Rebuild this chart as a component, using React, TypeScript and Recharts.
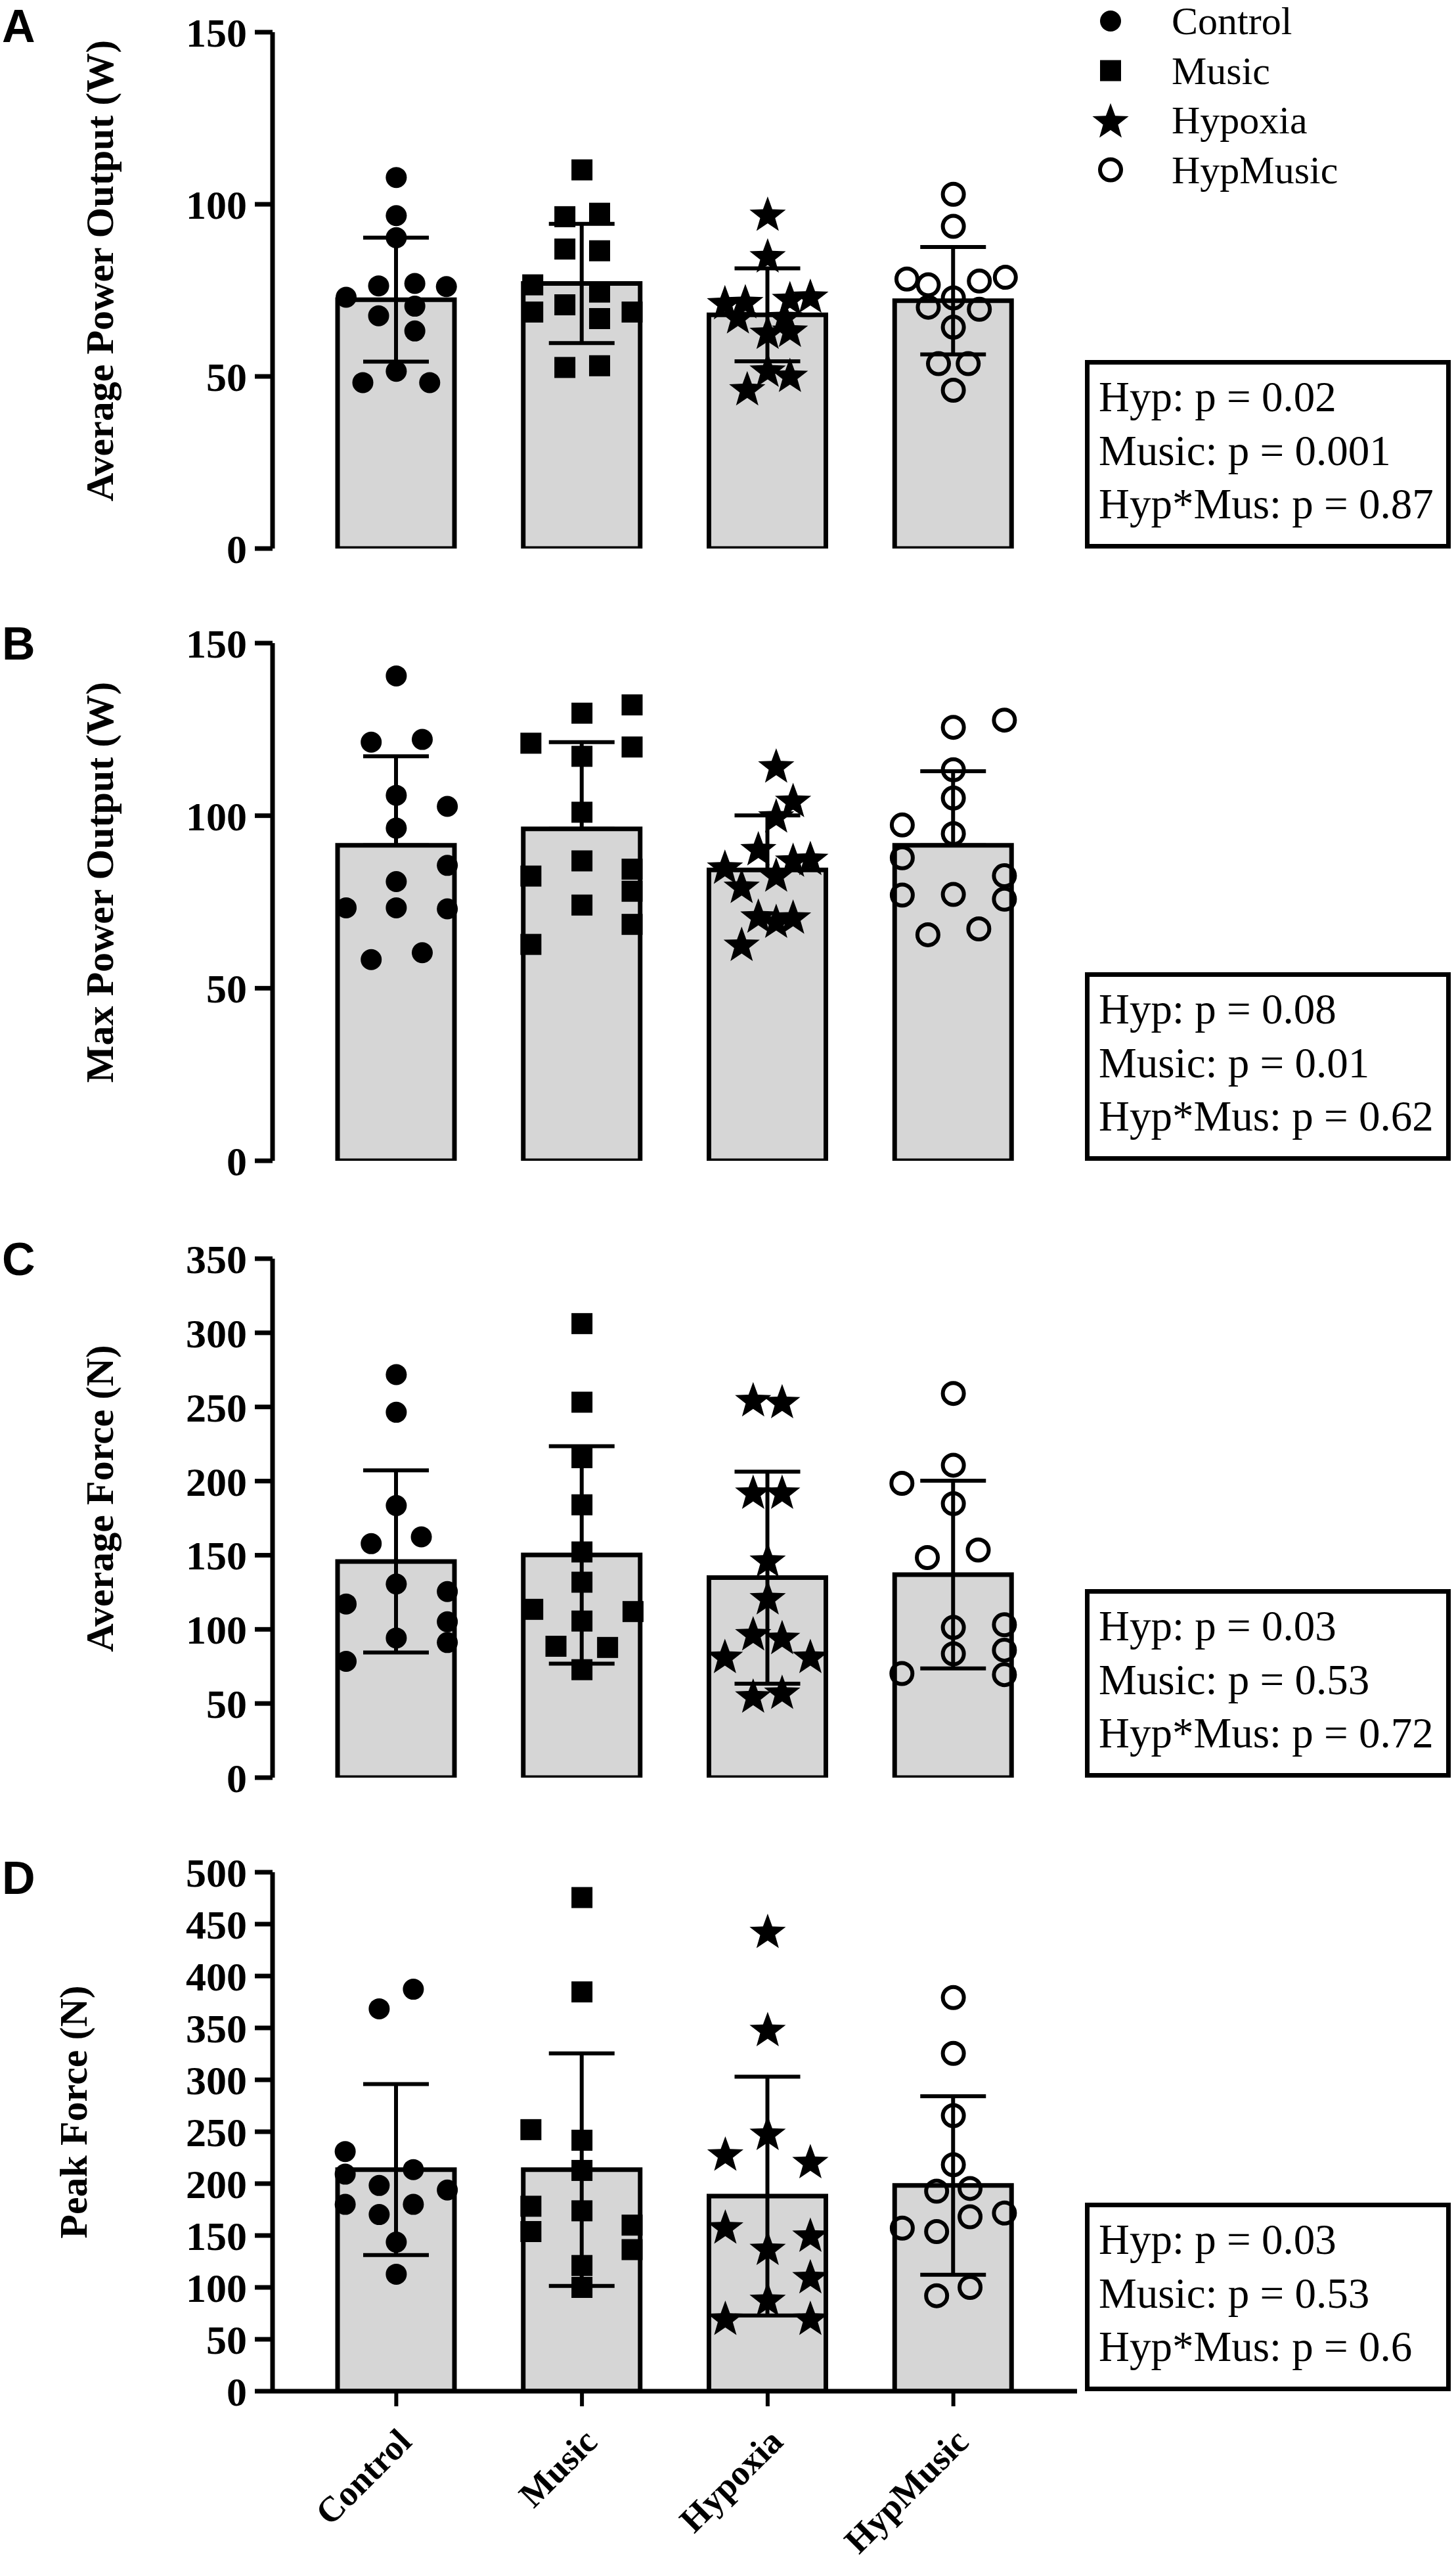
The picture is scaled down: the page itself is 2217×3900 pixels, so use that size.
import { ComposedChart, Bar, ErrorBar, Scatter, XAxis, YAxis } from 'recharts';

const groups = ['Control', 'Music', 'Hypoxia', 'HypMusic'];

// A - average power output (W). points are [offset inside the group, value]
const avgPowerMean = [72.3, 77.0, 67.9, 72.0];
const avgPowerSd = [18.0, 17.3, 13.5, 15.6];
const avgPowerControl = [[0, 107.8], [0, 96.7], [0, 90.3], [-0.27, 73.0], [-0.095, 76.3], [0.1, 77.0], [0.27, 76.1], [-0.095, 67.6], [0.1, 70.4], [0.1, 63.2], [0, 51.5], [-0.18, 48.2], [0.18, 48.2]];
const avgPowerMusic = [[0, 110.0], [-0.092, 96.4], [0.095, 97.4], [-0.092, 87.0], [0.095, 86.5], [-0.265, 76.6], [-0.092, 70.8], [0.095, 74.5], [-0.265, 68.7], [0.095, 66.8], [0.27, 68.7], [-0.092, 52.6], [0.095, 53.1]];
const avgPowerHypoxia = [[0, 97.3], [0, 85.2], [-0.23, 71.6], [-0.12, 71.9], [0.12, 72.8], [0.23, 73.5], [-0.16, 67.5], [0.09, 67.5], [0, 63.0], [0.12, 63.6], [0, 52.0], [0.12, 50.5], [-0.11, 46.6]];
const avgPowerHypMusic = [[0, 102.9], [0, 93.6], [-0.25, 78.3], [-0.135, 76.6], [0.14, 77.7], [0.28, 78.8], [0, 72.8], [-0.135, 70.1], [0.14, 69.5], [0, 64.3], [-0.08, 53.7], [0.08, 53.7], [0, 46.0]];

// B - max power output (W), error bars drawn upwards only
const maxPowerMean = [91.4, 96.2, 84.3, 91.4];
const maxPowerSd = [25.8, 25.1, 15.8, 21.5];
const maxPowerControl = [[0, 140.5], [-0.135, 121.3], [0.14, 122.1], [0, 105.9], [0.275, 102.7], [0, 96.4], [0.275, 85.6], [0, 80.9], [-0.27, 73.3], [0, 73.3], [0.275, 73.0], [0.14, 60.3], [-0.135, 58.3]];
const maxPowerMusic = [[0.27, 132.1], [0, 129.7], [-0.275, 121.0], [0.27, 119.9], [0, 117.2], [0, 101.0], [0, 86.9], [-0.275, 82.5], [0.27, 84.5], [0.27, 78.1], [0, 74.1], [0.27, 68.5], [-0.275, 62.7]];
const maxPowerHypoxia = [[0.046, 114.6], [0.137, 104.6], [0.046, 100.1], [-0.05, 90.6], [-0.23, 85.3], [0.137, 87.3], [0.23, 87.8], [0.046, 83.0], [-0.14, 79.7], [-0.05, 71.1], [0.046, 69.6], [0.137, 70.8], [-0.14, 62.9]];
const maxPowerHypMusic = [[0, 125.6], [0.275, 127.7], [0, 113.3], [0, 105.1], [-0.275, 97.3], [0, 94.8], [-0.275, 87.8], [0.275, 82.6], [-0.275, 77.0], [0, 77.2], [0.275, 75.8], [0.137, 67.2], [-0.137, 65.5]];

// C - average force (N)
const avgForceMean = [145.8, 150.2, 134.9, 136.9];
const avgForceSd = [61.4, 73.3, 71.5, 63.3];
const avgForceControl = [[0, 271.8], [0, 246.4], [0, 183.5], [-0.135, 157.8], [0.135, 162.4], [0, 130.6], [0.275, 125.5], [-0.27, 117.1], [0.275, 105.1], [0, 94.2], [0.275, 91.1], [-0.27, 78.4]];
const avgForceMusic = [[0, 306.2], [0, 253.2], [0, 215.8], [0, 184.0], [0, 152.2], [0, 131.8], [-0.265, 113.5], [0.275, 112.0], [0, 105.6], [-0.14, 88.6], [0.138, 87.8], [0, 72.8]];
const avgForceHypoxia = [[-0.078, 255.3], [0.078, 254.0], [-0.078, 192.9], [0.078, 192.9], [0, 147.1], [0, 121.7], [-0.078, 97.5], [0.078, 94.9], [-0.23, 82.2], [0.23, 82.2], [-0.078, 55.5], [0.078, 58.0]];
const avgForceHypMusic = [[0, 259.1], [0, 210.7], [-0.277, 198.5], [0, 184.8], [-0.14, 148.4], [0.134, 153.5], [0, 101.3], [0.275, 103.1], [0, 83.5], [0.275, 86.0], [-0.277, 70.2], [0.275, 69.5]];

// D - peak force (N)
const peakForceMean = [213.5, 213.5, 188.0, 198.2];
const peakForceSd = [82.4, 112.0, 115.0, 86.0];
const peakForceControl = [[0.092, 387.3], [-0.092, 368.4], [-0.275, 230.9], [-0.275, 209.1], [0.092, 213.5], [-0.092, 198.2], [0.275, 193.8], [-0.275, 180.0], [0.092, 180.0], [-0.092, 170.2], [0, 143.6], [0, 112.7]];
const peakForceMusic = [[0, 475.6], [0, 384.7], [-0.275, 252.0], [0, 241.8], [0, 212.7], [-0.275, 178.2], [0, 173.8], [-0.275, 153.8], [0.27, 160.0], [0.27, 136.4], [0, 121.1], [0, 100.0]];
const peakForceHypoxia = [[0, 443.6], [0, 349.1], [0, 249.1], [-0.228, 229.1], [0.23, 221.8], [-0.228, 158.9], [0.23, 150.9], [0, 138.2], [0.23, 110.9], [0, 89.1], [-0.228, 70.9], [0.23, 70.9]];
const peakForceHypMusic = [[0, 379.3], [0, 325.5], [0, 265.5], [0, 218.2], [-0.09, 192.7], [0.09, 195.3], [-0.275, 157.1], [-0.09, 153.8], [0.09, 168.0], [0.275, 171.6], [-0.09, 92.0], [0.09, 100.0]];

const ticks150 = [0, 50, 100, 150];
const ticks350 = [0, 50, 100, 150, 200, 250, 300, 350];
const ticks500 = [0, 50, 100, 150, 200, 250, 300, 350, 400, 450, 500];

const statsA = ['Hyp: p = 0.02', 'Music: p = 0.001', 'Hyp*Mus: p = 0.87'];
const statsB = ['Hyp: p = 0.08', 'Music: p = 0.01', 'Hyp*Mus: p = 0.62'];
const statsC = ['Hyp: p = 0.03', 'Music: p = 0.53', 'Hyp*Mus: p = 0.72'];
const statsD = ['Hyp: p = 0.03', 'Music: p = 0.53', 'Hyp*Mus: p = 0.6'];

const SERIF = '"Liberation Serif", "Times New Roman", serif';
const SANS = '"Liberation Sans", Arial, sans-serif';
const TOP_PAD = 45;
const BOTTOM_PAD = 45;

const panels = [
  { letter: 'A', letterY: 64, top: 49, height: 786, max: 150, ticks: ticks150, title: 'Average Power Output (W)', titleX: 172,
    mean: avgPowerMean, sd: avgPowerSd, points: [avgPowerControl, avgPowerMusic, avgPowerHypoxia, avgPowerHypMusic], stats: statsA },
  { letter: 'B', letterY: 1004, top: 979, height: 788, max: 150, ticks: ticks150, title: 'Max Power Output (W)', titleX: 172, upOnly: true,
    mean: maxPowerMean, sd: maxPowerSd, points: [maxPowerControl, maxPowerMusic, maxPowerHypoxia, maxPowerHypMusic], stats: statsB },
  { letter: 'C', letterY: 1941, top: 1916, height: 790, max: 350, ticks: ticks350, title: 'Average Force (N)', titleX: 172,
    mean: avgForceMean, sd: avgForceSd, points: [avgForceControl, avgForceMusic, avgForceHypoxia, avgForceHypMusic], stats: statsC },
  { letter: 'D', letterY: 2883, top: 2850, height: 790, max: 500, ticks: ticks500, title: 'Peak Force (N)', titleX: 132, showX: true,
    mean: peakForceMean, sd: peakForceSd, points: [peakForceControl, peakForceMusic, peakForceHypoxia, peakForceHypMusic], stats: statsD },
];

const starPath = (cx: number, cy: number, R: number, r: number) => {
  let d = '';
  for (let k = 0; k < 10; k++) {
    const rad = k % 2 === 0 ? R : r;
    const a = -Math.PI / 2 + (k * Math.PI) / 5;
    d += (k ? 'L' : 'M') + (cx + rad * Math.cos(a)).toFixed(1) + ' ' + (cy + rad * Math.sin(a)).toFixed(1);
  }
  return d + 'Z';
};

const Dot = (p: any) => <circle cx={p.cx} cy={p.cy} r={16} fill="#000" />;
const Square = (p: any) => <rect x={p.cx - 16} y={p.cy - 16} width={32} height={32} fill="#000" />;
const Star = (p: any) => <path d={starPath(p.cx, p.cy + 3, 29, 12)} fill="#000" />;
const Ring = (p: any) => <circle cx={p.cx} cy={p.cy} r={16} fill="none" stroke="#000" strokeWidth={6} />;
const shapes = [Dot, Square, Star, Ring];

const AxisTitle = (props: any) => {
  const { value, x0, cy } = props;
  return (
    <text x={x0} y={cy} transform={`rotate(-90 ${x0} ${cy})`} textAnchor="middle"
      fontFamily={SERIF} fontWeight={700} fontSize={60} fill="#000">
      {value}
    </text>
  );
};

const SlantTick = (props: any) => {
  const { x, y, payload } = props;
  const px = x + 26;
  const py = y + 55;
  return (
    <text x={px} y={py} textAnchor="end" transform={`rotate(-45 ${px} ${py})`}
      fontFamily={SERIF} fontWeight={700} fontSize={54} fill="#000">
      {payload.value}
    </text>
  );
};

function Panel({ cfg }: { cfg: any }) {
  const barData = groups.map((name, i) => ({
    name,
    mean: cfg.mean[i],
    err: cfg.upOnly ? [0, cfg.sd[i]] : cfg.sd[i],
  }));
  const chartH = TOP_PAD + cfg.height + (cfg.showX ? 260 : BOTTOM_PAD);

  return (
    <div style={{ position: 'absolute', left: 0, top: cfg.top - TOP_PAD }}>
      <ComposedChart width={1645} height={chartH} data={barData}
        margin={{ top: TOP_PAD, right: 5, bottom: cfg.showX ? 0 : BOTTOM_PAD, left: 0 }}>
        <XAxis xAxisId="cat" dataKey="name" hide={!cfg.showX} height={260} interval={0}
          padding={{ left: 47, right: 47 }}
          axisLine={{ stroke: '#000', strokeWidth: 7 }}
          tickLine={{ stroke: '#000', strokeWidth: 6 }} tickSize={23}
          tick={<SlantTick />} />
        <XAxis xAxisId="pts" dataKey="x" type="number" domain={[0, 4]} allowDataOverflow hide
          padding={{ left: 47, right: 47 }} />
        <YAxis width={415} domain={[0, cfg.max]} ticks={cfg.ticks} interval={0} allowDataOverflow
          axisLine={{ stroke: '#000', strokeWidth: 7 }}
          tickLine={{ stroke: '#000', strokeWidth: 7 }} tickSize={27} tickMargin={12}
          tick={{ fill: '#000', fontSize: 62, fontWeight: 700, fontFamily: SERIF }}
          label={<AxisTitle value={cfg.title} x0={cfg.titleX} cy={TOP_PAD + cfg.height / 2 - 30} />} />
        <Bar xAxisId="cat" dataKey="mean" barSize={178} fill="#d6d6d6" stroke="#000" strokeWidth={7}
          isAnimationActive={false}>
          <ErrorBar dataKey="err" direction="y" width={50} stroke="#000" strokeWidth={6} isAnimationActive={false} />
        </Bar>
        {groups.map((g, i) => (
          <Scatter key={g} name={g} xAxisId="pts" dataKey="y"
            data={cfg.points[i].map(([off, v]: number[]) => ({ x: i + 0.5 + off, y: v }))}
            shape={shapes[i]} isAnimationActive={false} />
        ))}
      </ComposedChart>
      <svg width={557} height={287} style={{ position: 'absolute', left: 1652, top: TOP_PAD + cfg.height - 287 }}>
        <rect x={3.5} y={3.5} width={550} height={280} fill="#fff" stroke="#000" strokeWidth={7} />
        {cfg.stats.map((s: string, k: number) => (
          <text key={s} x={21} y={78 + k * 81.5} fontFamily={SERIF} fontSize={65} fill="#000">{s}</text>
        ))}
      </svg>
    </div>
  );
}

function PanelLetter({ letter, y }: { letter: string; y: number }) {
  return (
    <svg width={90} height={90} style={{ position: 'absolute', left: 0, top: y - 70 }}>
      <text x={3} y={70} fontFamily={SANS} fontWeight={700} fontSize={70} fill="#000">{letter}</text>
    </svg>
  );
}

function Legend() {
  return (
    <svg width={520} height={320} style={{ position: 'absolute', left: 1650, top: 0 }}>
      {groups.map((g, i) => {
        const cy = 32 + i * 75.5;
        const Shape = shapes[i];
        return (
          <g key={g}>
            <Shape cx={41} cy={cy} />
            <text x={134} y={cy + 20} fontFamily={SERIF} fontSize={60} fill="#000">{g}</text>
          </g>
        );
      })}
    </svg>
  );
}

export default function App() {
  return (
    <div style={{ position: 'absolute', left: 0, top: 0, width: 2217, height: 3900, background: '#fff', overflow: 'hidden' }}>
      {panels.map((p) => (
        <Panel key={p.letter} cfg={p} />
      ))}
      {panels.map((p) => (
        <PanelLetter key={p.letter} letter={p.letter} y={p.letterY} />
      ))}
      <Legend />
    </div>
  );
}
